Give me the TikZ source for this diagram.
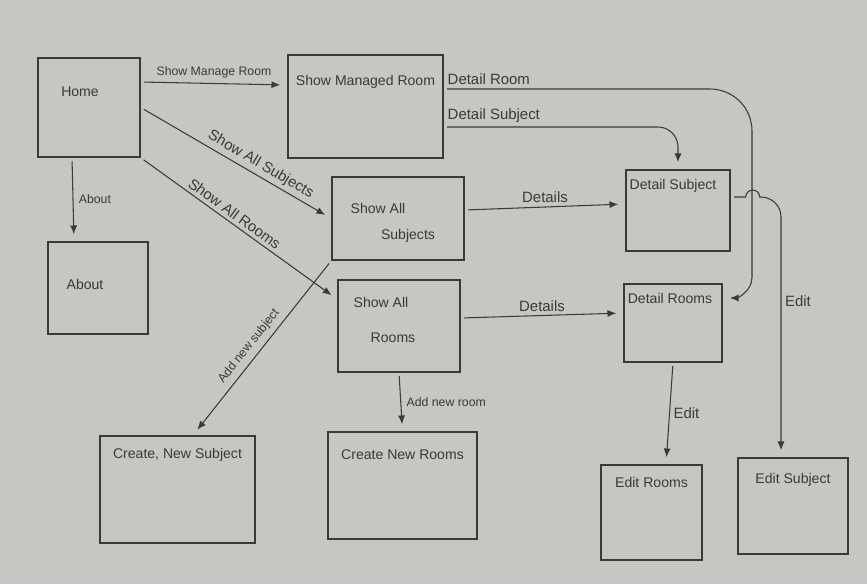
\documentclass[tikz,border=0pt]{standalone}
\usepackage{fontspec}
\setmainfont{Liberation Sans}
\usetikzlibrary{arrows.meta}
\definecolor{paper}{RGB}{198,198,194}
\definecolor{pencil}{RGB}{58,58,58}
\tikzset{
  box/.style={draw=pencil, line width=0.8pt, inner sep=0pt},
  title/.style={text=pencil, font=\fontsize{8}{9}\selectfont, inner sep=1pt},
  link/.style={draw=pencil, line width=0.6pt, -{Latex[length=5pt,width=4pt]}, shorten >=4pt, shorten <=2pt},
  rlink/.style={draw=pencil, line width=0.6pt, {Latex[length=5pt,width=4pt]}-, shorten <=4pt, shorten >=2pt},
  lab/.style={text=pencil, font=\fontsize{7}{8}\selectfont, inner sep=3pt},
  biglab/.style={text=pencil, font=\fontsize{8.5}{9}\selectfont, inner sep=2pt},
}
\begin{document}
\begin{tikzpicture}
    \fill[paper] (0,0) rectangle (17.34,-11.68);
    \foreach \n/\x/\y/\w/\h in
        {home/1.78/-2.15/2.04/1.98, about/1.96/-5.76/2.00/1.84, managed/7.31/-2.13/3.10/2.06,
         subjects/7.96/-4.37/2.64/1.66, rooms/7.98/-6.52/2.44/1.84, dsubject/13.56/-4.21/2.08/1.62,
         drooms/13.46/-6.46/1.96/1.56, csubject/3.55/-9.79/3.10/2.14, crooms/8.05/-9.71/2.98/2.14,
         eroom/13.03/-10.25/2.02/1.90, esubject/15.86/-10.12/2.20/1.92}
        {
            \node[box, minimum width=\w cm, minimum height=\h cm] (\n) at (\x,\y) {};
        }
    \foreach \n/\dx/\dy/\t [count=\i] in
        {home/-0.18/0.31/Home, about/-0.26/0.08/About, managed/0/0.49/Show Managed Room,
         subjects/-0.4/0.21/Show All, subjects/0.2/-0.35/Subjects,
         rooms/-0.36/0.48/Show All, rooms/-0.12/-0.24/Rooms,
         dsubject/-0.1/0.49/Detail Subject, drooms/-0.06/0.5/Detail Rooms,
         csubject/0/0.69/{Create, New Subject}, crooms/0/0.61/Create New Rooms,
         eroom/0/0.61/Edit Rooms, esubject/0/0.52/Edit Subject}
        {
            \node[title] (t\i) at ([shift={(\dx,\dy)}]\n.center) {\t};
        }

    \draw[link] ([yshift=0.51cm]home.east) -- node[lab, above] {Show Manage Room} ([yshift=0.43cm]managed.west);
    \draw[link] ([xshift=-0.34cm]home.south) -- node[lab, right] {About} ([xshift=-0.48cm]about.north);
    \draw[link] (home.east) -- node[biglab, sloped, above, pos=0.6] {Show All Subjects} (subjects.west);
    \draw[link] (home.south east) -- node[biglab, sloped, above, pos=0.45] {Show All Rooms} ([yshift=-0.4cm]rooms.north west);
    \draw[rlink] ([xshift=0.31cm]csubject.north) -- node[lab, sloped, above, pos=0.47] {Add new subject} (subjects.south west);
    \draw[link] (rooms.south) -- node[lab, right] {Add new room} (crooms.north);
    \draw[link] ([yshift=0.17cm]subjects.east) -- node[biglab, above] {Details} ([yshift=0.13cm]dsubject.west);
    \draw[link] ([yshift=0.16cm]rooms.east) -- node[biglab, above] {Details} ([yshift=0.2cm]drooms.west);
    \draw[link] (drooms.south) -- node[biglab, right] {Edit} ([xshift=0.29cm]eroom.north);

    \draw[link, rounded corners=0.4cm] ([yshift=-0.41cm]managed.east) node[biglab, above right] {Detail Subject} -| (dsubject.north);
    \coordinate (rtop) at (14.2,-1.78);
    \coordinate (rturn) at (15.04,-5.55);
    \draw[link] ([yshift=0.35cm]managed.east) node[biglab, above right] {Detail Room} -- (rtop) to[out=0, in=90] ([yshift=-0.84cm]rtop -| rturn) -- (rturn) to[out=-90, in=0] ([yshift=0.5cm]drooms.east);
    \draw[link] ([yshift=0.27cm]dsubject.east) -- ++(0.3,0) arc[start angle=180, end angle=0, radius=0.14cm] [rounded corners=0.4cm] -| node[biglab, pos=0.7, right] {Edit} ([xshift=-0.24cm]esubject.north);
\end{tikzpicture}
\end{document}
